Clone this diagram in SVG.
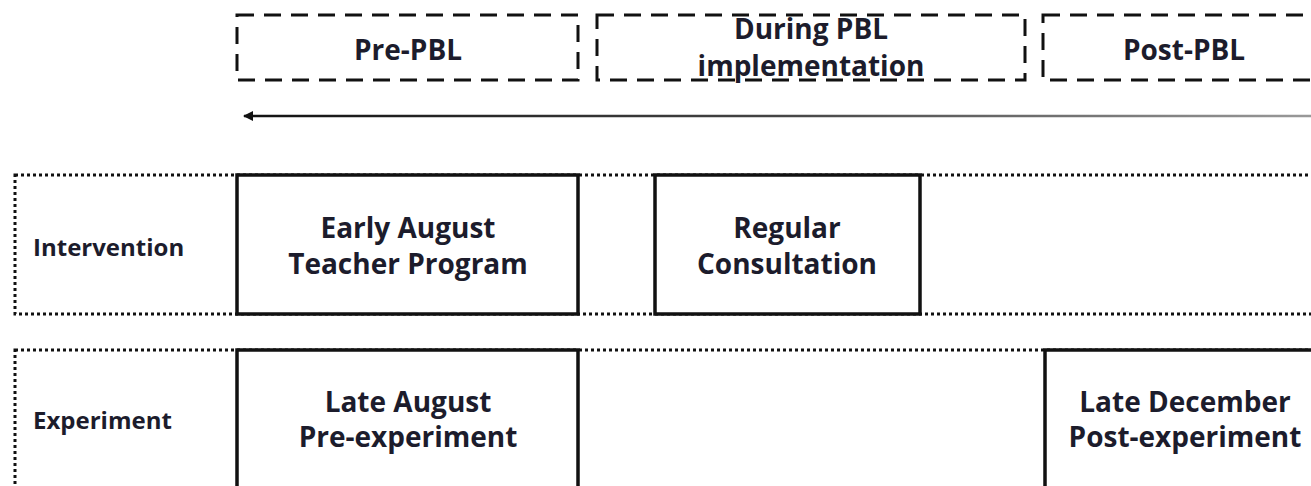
<svg xmlns="http://www.w3.org/2000/svg" width="1311" height="486" viewBox="0 0 1311 486">
<style>
.dash{fill:none;stroke:#111;stroke-width:3;stroke-dasharray:17 10}
.dot{fill:none;stroke:#111;stroke-width:3;stroke-dasharray:3 3}
.solid{fill:#fff;stroke:#111;stroke-width:3.5}
text{font-family:"Open Sans","Noto Sans",sans-serif;font-weight:bold;fill:#1c1c2c}
.t{font-size:28px;text-anchor:middle}
.h{font-size:28px;text-anchor:middle}
.l{font-size:24px}
</style>
<defs>
<marker id="ah" viewBox="0 0 10 10" refX="1" refY="5" markerWidth="4" markerHeight="4" orient="auto">
<path d="M10,0 L0,5 L10,10 Z" fill="#111"/>
</marker>
<linearGradient id="lg" gradientUnits="userSpaceOnUse" x1="237" y1="0" x2="1311" y2="0">
<stop offset="0" stop-color="#111"/>
<stop offset="0.5" stop-color="#444"/>
<stop offset="1" stop-color="#999"/>
</linearGradient>
</defs>
<rect width="1311" height="486" fill="#fff"/>
<g id="phase-pre">
<rect class="dash" x="237" y="15" width="341" height="65"/>
<text class="h" x="408" y="60">Pre-PBL</text>
</g>
<g id="phase-during">
<rect class="dash" x="597" y="15" width="428" height="65"/>
<text class="h" x="811" y="39">During PBL</text>
<text class="h" x="811" y="76">implementation</text>
</g>
<g id="phase-post">
<rect class="dash" x="1043" y="15" width="290" height="65"/>
<text class="h" x="1184" y="60">Post-PBL</text>
</g>
<g id="connectors">
<line x1="244" y1="116" x2="1311" y2="116" stroke="url(#lg)" stroke-width="2.5" marker-start="url(#ah)"/>
</g>
<g id="row-intervention">
<rect class="dot" x="15" y="175" width="1320" height="139"/>
<text class="l" x="33" y="256">Intervention</text>
</g>
<g id="row-experiment">
<rect class="dot" x="15" y="350" width="1320" height="160"/>
<text class="l" x="33" y="429">Experiment</text>
</g>
<g id="early-august">
<rect class="solid" x="237" y="175" width="341" height="139"/>
<text class="t" x="408" y="238">Early August</text>
<text class="t" x="408" y="274">Teacher Program</text>
</g>
<g id="regular-consultation">
<rect class="solid" x="655" y="175" width="265" height="139"/>
<text class="t" x="787" y="238">Regular</text>
<text class="t" x="787" y="274">Consultation</text>
</g>
<g id="late-august">
<rect class="solid" x="237" y="350" width="341" height="160"/>
<text class="t" x="408" y="412">Late August</text>
<text class="t" x="408" y="447">Pre-experiment</text>
</g>
<g id="late-december">
<rect class="solid" x="1045" y="350" width="300" height="160"/>
<text class="t" x="1185" y="412">Late December</text>
<text class="t" x="1185" y="447">Post-experiment</text>
</g>
</svg>
